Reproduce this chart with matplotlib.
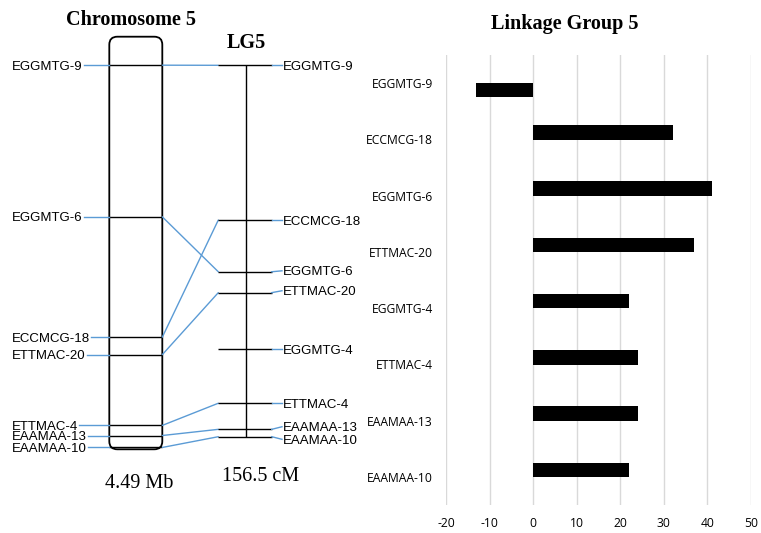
import numpy as np
import matplotlib
matplotlib.use('Agg')
import matplotlib.pyplot as plt
from matplotlib.patches import FancyBboxPatch, ConnectionPatch

plt.rcParams['axes.unicode_minus'] = False

# physical map, chromosome 5 (Mb)
chr_markers = ['EGGMTG-9', 'EGGMTG-6', 'ECCMCG-18', 'ETTMAC-20',
               'ETTMAC-4', 'EAAMAA-13', 'EAAMAA-10']
chr_mb = [0.31, 1.96, 3.27, 3.46, 4.23, 4.34, 4.47]
chr_length = 4.49

# genetic map, LG5 (cM)
lg_markers = ['EGGMTG-9', 'ECCMCG-18', 'EGGMTG-6', 'ETTMAC-20',
              'EGGMTG-4', 'ETTMAC-4', 'EAAMAA-13', 'EAAMAA-10']
lg_cm = [0, 65.2, 87.0, 95.8, 119.7, 142.4, 153.4, 156.5]
lg_label_cm = [0, 65.2, 86.6, 95.0, 119.7, 142.4, 152.3, 157.6]
lg_length = 156.5

# bar chart, linkage group 5
bar_labels = lg_markers
bar_values = [-13, 32, 41, 37, 22, 24, 24, 22]
bar_ticks = [-20, -10, 0, 10, 20, 30, 40, 50]

BLUE = '#5b9bd5'
W, H = 761, 533

# layout in pixels
chr_x0, chr_x1 = 109.3, 162.3
chr_top, chr_bot = 36.7, 449.3
lg_x, tick_x0, tick_x1 = 245.7, 218.3, 271.7
lg_top, lg_bot = 65.3, 436.7

fig = plt.figure(figsize=(W / 100, H / 100), dpi=100)

# left: chromosome vs linkage map
ax_chr = fig.add_axes([0, 0, 0.5, 1])
ax_chr.set_xlim(0, W * 0.5)
mb_per_px = chr_length / (chr_bot - chr_top)
ax_chr.set_ylim((H - chr_top) * mb_per_px, -chr_top * mb_per_px)
ax_chr.axis('off')

ax_lg = ax_chr.twinx()
cm_per_px = lg_length / (lg_bot - lg_top)
ax_lg.set_ylim((H - lg_top) * cm_per_px, -lg_top * cm_per_px)
ax_lg.axis('off')

box = FancyBboxPatch((chr_x0, 0), chr_x1 - chr_x0, chr_length,
                     boxstyle='round,pad=0,rounding_size=8',
                     mutation_aspect=mb_per_px,
                     fc='none', ec='black', lw=1.3)
ax_chr.add_patch(box)
ax_chr.hlines(chr_mb, chr_x0, chr_x1, color='black', lw=1)

chr_texts = []
for name, mb in zip(chr_markers, chr_mb):
    t = ax_chr.text(12, mb, name, ha='left', va='center_baseline',
                    fontsize=9.5, family='Liberation Sans')
    chr_texts.append(t)

ax_lg.vlines(lg_x, 0, lg_length, color='black', lw=1)
ax_lg.hlines(lg_cm, tick_x0, tick_x1, color='black', lw=1)
for name, cm, lcm in zip(lg_markers, lg_cm, lg_label_cm):
    ax_lg.plot([tick_x1, 282], [cm, lcm], color=BLUE, lw=1)
    ax_lg.text(282.5, lcm, name, ha='left', va='center_baseline',
               fontsize=9.5, family='Liberation Sans')

# connectors chromosome -> LG
for name, mb in zip(chr_markers, chr_mb):
    cm = lg_cm[lg_markers.index(name)]
    con = ConnectionPatch(xyA=(chr_x1, mb), coordsA=ax_chr.transData,
                          xyB=(tick_x0, cm), coordsB=ax_lg.transData,
                          color=BLUE, lw=1)
    ax_lg.add_artist(con)

fig.text(131 / W, 1 - 25 / H, 'Chromosome 5', ha='center', va='baseline',
         fontsize=14.5, fontweight='bold', family='Liberation Serif')
fig.text(246.7 / W, 1 - 48.3 / H, 'LG5', ha='center', va='baseline',
         fontsize=14.5, fontweight='bold', family='Liberation Serif')
fig.text(139.3 / W, 1 - 487.7 / H, '4.49 Mb', ha='center', va='baseline',
         fontsize=14.5, family='Liberation Serif')
fig.text(260.7 / W, 1 - 481 / H, '156.5 cM', ha='center', va='baseline',
         fontsize=14.5, family='Liberation Serif')

# right: bar chart
ax_bar = fig.add_axes([446 / W, 1 - 505 / H, (751 - 446) / W, (505 - 55) / H])
y = np.arange(len(bar_labels))
vals = np.array(bar_values)
pos = vals > 0
neg = vals < 0
ax_bar.barh(y[pos] - 0.125, vals[pos], height=0.26, color='black')
ax_bar.barh(y[neg] + 0.125, vals[neg], height=0.26, color='black')
ax_bar.set_xlim(-20, 50)
ax_bar.set_ylim(len(bar_labels) - 0.5, -0.5)
ax_bar.set_xticks(bar_ticks)
ax_bar.set_yticks(y, bar_labels)
ax_bar.grid(axis='x', color='#d9d9d9', lw=1)
ax_bar.set_axisbelow(True)
for s in ax_bar.spines.values():
    s.set_visible(False)
ax_bar.tick_params(axis='both', length=0, labelsize=8.7)
ax_bar.tick_params(axis='y', pad=9.4)
ax_bar.tick_params(axis='x', pad=8.5)
for lab in ax_bar.get_xticklabels() + ax_bar.get_yticklabels():
    lab.set_family('Open Sans')
fig.text(565 / W, 1 - 29.3 / H, 'Linkage Group 5', ha='center', va='baseline',
         fontsize=14.5, fontweight='bold', family='Liberation Serif')

# blue leader lines from chromosome labels
fig.canvas.draw()
inv = ax_chr.transData.inverted()
for t, mb in zip(chr_texts, chr_mb):
    bb = t.get_window_extent()
    x_end = inv.transform((bb.x1, 0))[0]
    ax_chr.plot([x_end + 1, chr_x0], [mb, mb], color=BLUE, lw=1)

fig.savefig('out.png', dpi=100)
